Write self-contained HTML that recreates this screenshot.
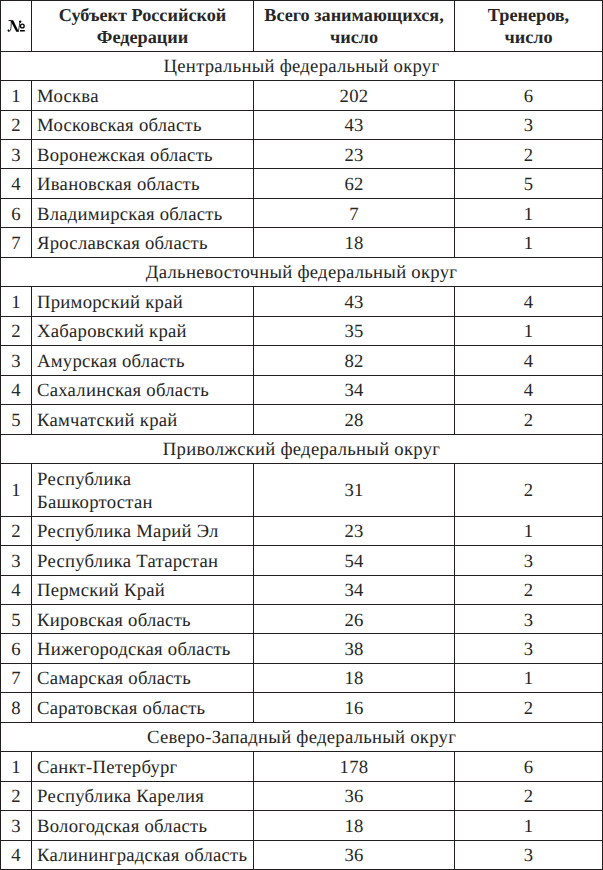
<!DOCTYPE html>
<html><head><meta charset="utf-8"><style>
html,body{margin:0;padding:0;background:#fff;}
body{width:603px;height:870px;overflow:hidden;position:relative;}
table{border-collapse:collapse;table-layout:fixed;position:absolute;left:0;top:0;width:603px;
 font-family:"Liberation Serif",serif;font-size:18.67px;line-height:23.1px;color:#262626;letter-spacing:0.27px;text-rendering:geometricPrecision;}
td,th{border:1px solid #231f20;padding:2px 0 0 0;vertical-align:middle;text-align:center;overflow:hidden;}
th{font-weight:bold;font-size:18.2px;line-height:22px;padding:0;letter-spacing:0;}
td.n{text-align:left;padding-left:5px;}
tr.d td{padding-top:3px;}
.no{color:transparent;}
svg.nsym{position:absolute;left:0;top:0;}
</style></head><body>
<table>
<colgroup>
<col style="width:31px">
<col style="width:222px">
<col style="width:201px">
<col style="width:148px">
</colgroup>
<tr style="height:51px"><th><span class="no">№</span></th><th>Субъект Российской<br>Федерации</th><th>Всего занимающихся,<br>число</th><th>Тренеров,<br>число</th></tr>
<tr style="height:29px"><td colspan="4">Центральный федеральный округ</td></tr>
<tr style="height:30px"><td>1</td><td class="n">Москва</td><td>202</td><td>6</td></tr>
<tr style="height:29px"><td>2</td><td class="n">Московская область</td><td>43</td><td>3</td></tr>
<tr class="d" style="height:29px"><td>3</td><td class="n">Воронежская область</td><td>23</td><td>2</td></tr>
<tr style="height:30px"><td>4</td><td class="n">Ивановская область</td><td>62</td><td>5</td></tr>
<tr class="d" style="height:29px"><td>6</td><td class="n">Владимирская область</td><td>7</td><td>1</td></tr>
<tr style="height:30px"><td>7</td><td class="n">Ярославская область</td><td>18</td><td>1</td></tr>
<tr style="height:29px"><td colspan="4">Дальневосточный федеральный округ</td></tr>
<tr style="height:30px"><td>1</td><td class="n">Приморский край</td><td>43</td><td>4</td></tr>
<tr style="height:29px"><td>2</td><td class="n">Хабаровский край</td><td>35</td><td>1</td></tr>
<tr style="height:30px"><td>3</td><td class="n">Амурская область</td><td>82</td><td>4</td></tr>
<tr style="height:29px"><td>4</td><td class="n">Сахалинская область</td><td>34</td><td>4</td></tr>
<tr style="height:30px"><td>5</td><td class="n">Камчатский край</td><td>28</td><td>2</td></tr>
<tr style="height:29px"><td colspan="4">Приволжский федеральный округ</td></tr>
<tr style="height:53px"><td>1</td><td class="n">Республика<br>Башкортостан</td><td>31</td><td>2</td></tr>
<tr style="height:29px"><td>2</td><td class="n">Республика Марий Эл</td><td>23</td><td>1</td></tr>
<tr style="height:30px"><td>3</td><td class="n">Республика Татарстан</td><td>54</td><td>3</td></tr>
<tr style="height:29px"><td>4</td><td class="n">Пермский Край</td><td>34</td><td>2</td></tr>
<tr class="d" style="height:29px"><td>5</td><td class="n">Кировская область</td><td>26</td><td>3</td></tr>
<tr style="height:30px"><td>6</td><td class="n">Нижегородская область</td><td>38</td><td>3</td></tr>
<tr style="height:29px"><td>7</td><td class="n">Самарская область</td><td>18</td><td>1</td></tr>
<tr style="height:30px"><td>8</td><td class="n">Саратовская область</td><td>16</td><td>2</td></tr>
<tr style="height:29px"><td colspan="4">Северо-Западный федеральный округ</td></tr>
<tr style="height:30px"><td>1</td><td class="n">Санкт-Петербург</td><td>178</td><td>6</td></tr>
<tr style="height:29px"><td>2</td><td class="n">Республика Карелия</td><td>36</td><td>2</td></tr>
<tr style="height:30px"><td>3</td><td class="n">Вологодская область</td><td>18</td><td>1</td></tr>
<tr style="height:29px"><td>4</td><td class="n">Калининградская область</td><td>36</td><td>3</td></tr>
</table>
<svg class="nsym" width="31" height="51" viewBox="0 0 31 51">
<path d="M10.2 20.3 H13.2 L18.8 31.7 H16.3 Z" fill="#000"/>
<path d="M8.5 20.2 H11.2 V21.0 H8.5 Z" fill="#000"/>
<path d="M11.3 20.8 C11.3 25 11.1 28.4 10.4 30.2 C9.9 31.3 8.8 31.6 8.1 31.1" fill="none" stroke="#000" stroke-width="0.8"/>
<path d="M20.0 21.4 L18.4 31.6" fill="none" stroke="#000" stroke-width="0.8"/>
<ellipse cx="22.3" cy="26.0" rx="1.85" ry="1.95" fill="none" stroke="#000" stroke-width="1.3"/>
<circle cx="8.5" cy="30.6" r="1.0" fill="#000"/>
<circle cx="20.2" cy="21.6" r="1.2" fill="#000"/>
<rect x="20.0" y="30.0" width="4.8" height="1.5" fill="#000"/>
</svg>
</body></html>
